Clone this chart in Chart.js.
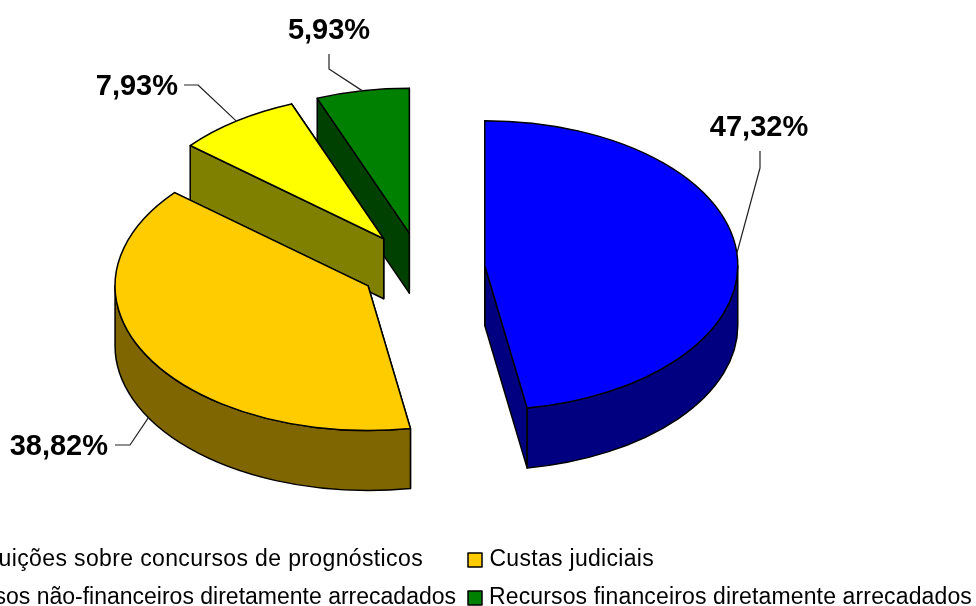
<!DOCTYPE html>
<html>
<head>
<meta charset="utf-8">
<title>Receitas</title>
<script src="https://cdn.jsdelivr.net/npm/chart.js@4/dist/chart.umd.js"></script>
<style>
    html, body { margin: 0; padding: 0; background: #fff; overflow: hidden; }
    canvas { display: block; filter: blur(0.4px); }
</style>
</head>
<body>
<canvas id="pieChart" width="976" height="606"></canvas>
<script>
var categories = [
    'Contribuições sobre concursos de prognósticos',
    'Custas judiciais',
    'Recursos não-financeiros diretamente arrecadados',
    'Recursos financeiros diretamente arrecadados'
];
var shares = [47.32, 38.82, 7.93, 5.93];
var topColors = ['#0000ff', '#ffcc00', '#ffff00', '#008000'];
var sideColors = ['#000080', '#806600', '#808000', '#004000'];

// look of the fake 3d pie
var squash = 0.572;
var depth = 60;
var sliceExplode = [64, 61, 64, 63];
var radius = 253;

// leader line bends and label anchors, one per slice
var leaderBends = [[[760, 168], [760, 151]], [[130, 445], [115, 445]], [[198, 85], [184, 85]], [[329, 69], [329, 54]]];
var labelSpots = [[759, 136, 'center'], [108, 455, 'right'], [178, 95, 'right'], [329, 39, 'center']];

// legend cells: swatch x, swatch y, right end of the text, letter spacing
var legendSpots = [[-96, 553, 423, 0.37], [468, 553, 654, 0.3], [-96, 591, 456, 0], [468, 591, 972, 0.14]];

function sliceCenter(arc, index) {
    var mid = (arc.startAngle + arc.endAngle) / 2;
    return {
        x: arc.x + Math.cos(mid) * sliceExplode[index],
        y: arc.y + Math.sin(mid) * sliceExplode[index] * squash
    };
}

function topPath(ctx, arc, c) {
    ctx.beginPath();
    ctx.moveTo(c.x, c.y);
    ctx.ellipse(c.x, c.y, arc.outerRadius, arc.outerRadius * squash, 0, arc.startAngle, arc.endAngle);
    ctx.closePath();
}

function fillStroke(ctx, color) {
    ctx.fillStyle = color;
    ctx.fill();
    ctx.stroke();
}

function drawRadialWall(ctx, arc, c, angle, color) {
    var px = c.x + Math.cos(angle) * arc.outerRadius;
    var py = c.y + Math.sin(angle) * arc.outerRadius * squash;
    ctx.beginPath();
    ctx.moveTo(c.x, c.y);
    ctx.lineTo(px, py);
    ctx.lineTo(px, py + depth);
    ctx.lineTo(c.x, c.y + depth);
    ctx.closePath();
    fillStroke(ctx, color);
}

function drawRimWall(ctx, arc, c, color) {
    // only the front half of the rim can be seen
    var from = Math.max(arc.startAngle, 0);
    var to = Math.min(arc.endAngle, Math.PI);
    if (to <= from) {
        return;
    }
    var rx = arc.outerRadius, ry = arc.outerRadius * squash;
    ctx.beginPath();
    ctx.ellipse(c.x, c.y, rx, ry, 0, from, to);
    ctx.ellipse(c.x, c.y + depth, rx, ry, 0, to, from, true);
    ctx.closePath();
    fillStroke(ctx, color);
}

function drawSlice(ctx, arc, index) {
    var c = sliceCenter(arc, index);
    ctx.strokeStyle = '#000';
    ctx.lineWidth = 1.5;
    ctx.lineJoin = 'round';
    drawRadialWall(ctx, arc, c, arc.endAngle, sideColors[index]);
    drawRadialWall(ctx, arc, c, arc.startAngle, sideColors[index]);
    drawRimWall(ctx, arc, c, sideColors[index]);

    ctx.save();
    ctx.translate(c.x, c.y);
    ctx.scale(1, squash);
    ctx.translate(-arc.x, -arc.y);
    arc.draw(ctx);
    ctx.restore();

    topPath(ctx, arc, c);
    ctx.stroke();
}

function drawLeader(ctx, arc, index) {
    var c = sliceCenter(arc, index);
    var mid = (arc.startAngle + arc.endAngle) / 2;
    var px = c.x + Math.cos(mid) * arc.outerRadius;
    var py = c.y + Math.sin(mid) * arc.outerRadius * squash;
    if (Math.sin(mid) > 0.2) {
        py += depth;
    }
    ctx.strokeStyle = '#222';
    ctx.lineWidth = 1.2;
    ctx.beginPath();
    ctx.moveTo(px, py);
    leaderBends[index].forEach(function (p) {
        ctx.lineTo(p[0], p[1]);
    });
    ctx.stroke();

    var spot = labelSpots[index];
    ctx.fillStyle = '#000';
    ctx.font = 'bold 29px "Liberation Sans"';
    ctx.textAlign = spot[2];
    ctx.textBaseline = 'alphabetic';
    ctx.fillText(shares[index].toFixed(2).replace('.', ',') + '%', spot[0], spot[1]);
}

function drawLegend(ctx) {
    ctx.font = '23px "Liberation Sans"';
    ctx.textAlign = 'right';
    ctx.textBaseline = 'alphabetic';
    categories.forEach(function (name, i) {
        var spot = legendSpots[i];
        ctx.fillStyle = topColors[i];
        ctx.strokeStyle = '#000';
        ctx.lineWidth = 1.5;
        ctx.fillRect(spot[0], spot[1], 14, 14);
        ctx.strokeRect(spot[0], spot[1], 14, 14);
        ctx.fillStyle = '#000';
        ctx.letterSpacing = spot[3] + 'px';
        ctx.fillText(name, spot[2], spot[1] + 13);
    });
    ctx.letterSpacing = '0px';
}

var pie3d = {
    id: 'pie3d',
    beforeDatasetsDraw: function (chart) {
        var ctx = chart.ctx;
        var arcs = chart.getDatasetMeta(0).data;
        ctx.save();
        // back slices first, each one covers the walls of the one behind it
        for (var i = arcs.length - 1; i >= 0; i--) {
            drawSlice(ctx, arcs[i], i);
        }
        arcs.forEach(function (arc, i) {
            drawLeader(ctx, arc, i);
        });
        drawLegend(ctx);
        ctx.restore();
        return false;
    }
};

var chart = new Chart(document.getElementById('pieChart').getContext('2d'), {
    type: 'pie',
    data: {
        labels: categories,
        datasets: [{
            data: shares,
            backgroundColor: topColors,
            borderWidth: 0
        }]
    },
    options: {
        responsive: false,
        animation: false,
        radius: radius,
        layout: { padding: { left: 0, top: 0, right: 134, bottom: 69 } },
        plugins: {
            legend: { display: false },
            tooltip: { enabled: false }
        }
    },
    plugins: [pie3d]
});
</script>
</body>
</html>
